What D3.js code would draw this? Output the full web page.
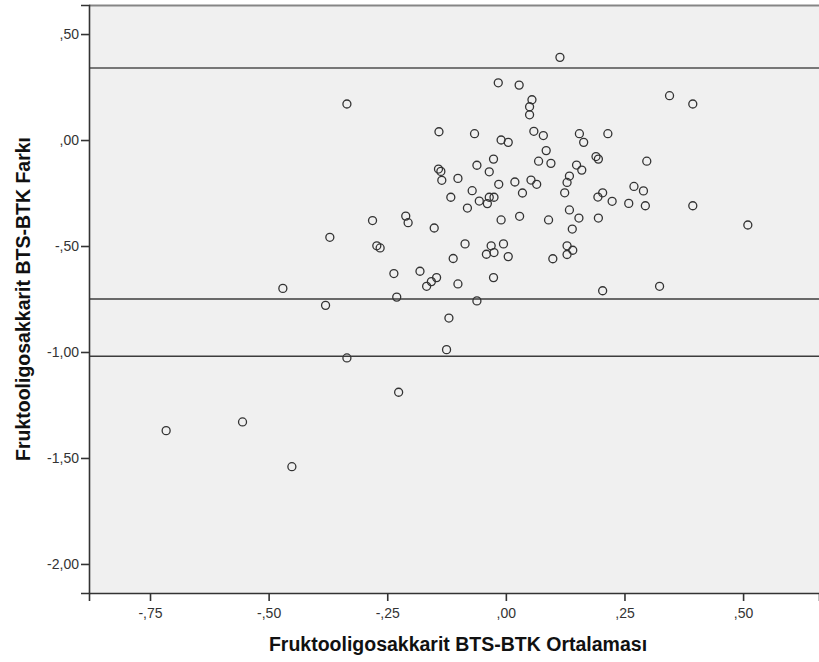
<!DOCTYPE html>
<html>
<meta charset="utf-8">
<script src="https://d3js.org/d3.v7.min.js"></script>
<style>
  body { margin: 0; background: #fff; }
  text { font-family: "Liberation Sans", Arial, sans-serif; }
</style>
<body>
<div id="plot"></div>
<script>
// mean of the two methods (x) and their difference (y), one entry per case
var meanVals = [0.114, -0.016, 0.028, 0.055, 0.050, 0.050, -0.335, 0.345, 0.394, -0.141,
  -0.066, -0.010, 0.005, 0.059, 0.079, 0.155, 0.164, 0.215, 0.085, 0.069,
  0.095, -0.026, -0.061, -0.035, -0.142, -0.137, -0.135, -0.101, -0.015, 0.019,
  0.053, 0.065, 0.035, -0.116, -0.071, -0.056, -0.039, -0.035, -0.025, -0.081,
  -0.010, 0.029, 0.090, -0.151, 0.190, 0.195, 0.149, 0.160, 0.134, 0.129,
  0.124, 0.297, 0.270, 0.290, 0.194, 0.204, 0.224, 0.259, 0.294, 0.394,
  0.134, 0.154, 0.195, 0.140, 0.129, 0.141, 0.129, 0.099, 0.510, 0.204,
  0.324, -0.281, -0.211, -0.206, -0.272, -0.265, -0.086, -0.111, -0.031, -0.005,
  -0.041, -0.025, 0.005, -0.371, -0.236, -0.181, -0.146, -0.157, -0.167, -0.101,
  -0.026, -0.470, -0.230, -0.061, -0.380, -0.120, -0.125, -0.335, -0.226, -0.716,
  -0.555, -0.451];
var diffVals = [0.390, 0.270, 0.259, 0.190, 0.157, 0.119, 0.170, 0.209, 0.170, 0.039,
  0.030, 0.000, -0.011, 0.041, 0.021, 0.030, -0.011, 0.030, -0.050, -0.100,
  -0.110, -0.090, -0.119, -0.150, -0.137, -0.148, -0.190, -0.181, -0.209, -0.198,
  -0.189, -0.209, -0.250, -0.270, -0.239, -0.288, -0.300, -0.270, -0.270, -0.321,
  -0.377, -0.360, -0.377, -0.415, -0.078, -0.090, -0.118, -0.142, -0.170, -0.200,
  -0.249, -0.100, -0.219, -0.240, -0.269, -0.249, -0.289, -0.299, -0.310, -0.310,
  -0.330, -0.368, -0.368, -0.420, -0.499, -0.520, -0.540, -0.560, -0.401, -0.711,
  -0.690, -0.380, -0.359, -0.390, -0.499, -0.509, -0.490, -0.559, -0.499, -0.490,
  -0.539, -0.531, -0.550, -0.459, -0.630, -0.619, -0.649, -0.668, -0.690, -0.679,
  -0.649, -0.700, -0.741, -0.759, -0.780, -0.840, -0.989, -1.028, -1.190, -1.371,
  -1.330, -1.541];
// horizontal reference lines (upper limit, mean, lower limit)
var refLines = [0.34, -0.75, -1.02];
var xTicks = [-0.75, -0.50, -0.25, 0.00, 0.25, 0.50];
var yTicks = [0.50, 0.00, -0.50, -1.00, -1.50, -2.00];
var xTitle = "Fruktooligosakkarit BTS-BTK Ortalaması";
var yTitle = "Fruktooligosakkarit BTS-BTK Farkı";

var margin = {top: 5, right: 0, bottom: 69, left: 89},
    width = 819 - margin.left - margin.right,
    height = 662 - margin.top - margin.bottom;

var svg = d3.select("#plot")
  .append("svg")
    .attr("width", 819)
    .attr("height", 662);

var g = svg.append("g")
    .attr("transform", "translate(" + margin.left + "," + margin.top + ")");

var x = d3.scaleLinear()
    .domain([-0.8786, 0.660])
    .range([0, width]);

var y = d3.scaleLinear()
    .domain([0.637, -2.137])
    .range([0, height]);

// SPSS style numbers: ,50  -,75  -1,00
function spss(d) {
  return d.toFixed(2).replace(/^(-?)0\./, "$1.").replace(".", ",");
}

// plot background
g.append("rect")
    .attr("x", 0).attr("y", 0)
    .attr("width", width + 5).attr("height", height)
    .attr("fill", "#f0f0f0");

// top frame line
g.append("line")
    .attr("x1", 0).attr("x2", width + 5)
    .attr("y1", 0.5).attr("y2", 0.5)
    .attr("stroke", "#858585").attr("stroke-width", 2);

// reference lines
g.selectAll(".ref")
  .data(refLines)
  .enter()
  .append("line")
    .attr("class", "ref")
    .attr("x1", 0).attr("x2", width + 5)
    .attr("y1", function(d) { return y(d); })
    .attr("y2", function(d) { return y(d); })
    .attr("stroke", function(d, i) { return i == 0 ? "#777" : "#3c3c3c"; })
    .attr("stroke-width", function(d, i) { return i == 0 ? 2 : 1.6; });

// points
g.selectAll(".pt")
  .data(meanVals)
  .enter()
  .append("circle")
    .attr("class", "pt")
    .attr("cx", function(d) { return x(d); })
    .attr("cy", function(d, i) { return y(diffVals[i]); })
    .attr("r", 4)
    .attr("fill", "none")
    .attr("stroke", "#333")
    .attr("stroke-width", 1.3);

// axes
var xAxis = g.append("g")
    .attr("transform", "translate(0," + height + ")")
    .call(d3.axisBottom(x).tickValues(xTicks).tickFormat(spss).tickSize(8).tickPadding(7));

var yAxis = g.append("g")
    .call(d3.axisLeft(y).tickValues(yTicks).tickFormat(spss).tickSize(8).tickPadding(2));

[xAxis, yAxis].forEach(function(a) {
  a.select(".domain").attr("stroke", "#333").attr("stroke-width", 1.6);
  a.selectAll(".tick line").attr("stroke", "#333").attr("stroke-width", 1.6);
  a.selectAll(".tick text")
    .attr("fill", "#333")
    .style("font-size", "14px")
    .style("font-family", "'Liberation Sans', Arial, sans-serif");
});

// axis titles
svg.append("text")
    .attr("x", 458)
    .attr("y", 651)
    .attr("text-anchor", "middle")
    .style("font-size", "19.5px")
    .style("font-weight", "bold")
    .attr("fill", "#111")
    .text(xTitle);

svg.append("text")
    .attr("transform", "translate(30,299) rotate(-90)")
    .attr("text-anchor", "middle")
    .style("font-size", "19.5px")
    .style("font-weight", "bold")
    .attr("fill", "#111")
    .text(yTitle);
</script>
</body>
</html>
